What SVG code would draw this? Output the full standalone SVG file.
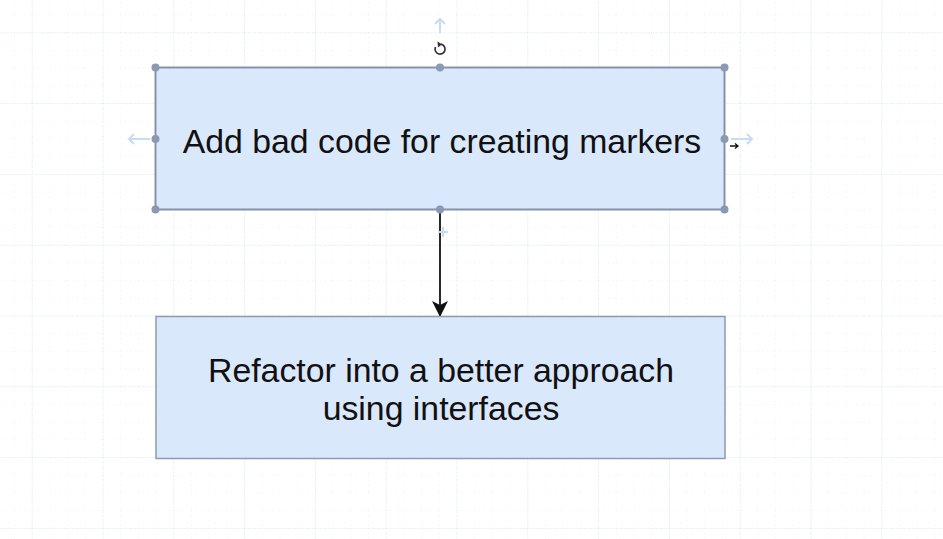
<svg xmlns="http://www.w3.org/2000/svg" width="943" height="539" viewBox="0 0 943 539">
<defs>
<pattern id="minor" x="31.7" y="32.3" width="17.7" height="17.7" patternUnits="userSpaceOnUse">
<path d="M0 0V17.7M0 0H17.7" fill="none" stroke="#dbe6f6" stroke-width="1" stroke-dasharray="1 4"/>
</pattern>
<pattern id="major" x="31.7" y="32.3" width="70.8" height="70.8" patternUnits="userSpaceOnUse">
<path d="M0 0V70.8M0 0H70.8" fill="none" stroke="#c6d9f2" stroke-width="1" stroke-dasharray="1 1.2"/>
</pattern>
<marker id="arrow" viewBox="0 0 16 16" refX="15" refY="8" markerWidth="16" markerHeight="16" markerUnits="userSpaceOnUse" orient="auto">
<path d="M0 0L16 8L0 16L4 8Z" fill="#111"/>
</marker>
<style>
.box{fill:#dae8fc;stroke:#8a9bb4;stroke-width:1.5}
.sel{stroke:#8593aa;stroke-width:2}
.lbl{font-family:"Liberation Sans",Arial,sans-serif;font-size:33.8px;fill:#111;text-anchor:middle}
.handle{fill:#8a9ab2}
.hint{fill:none;stroke:#c9dbf3;stroke-width:2}
</style>
</defs>
<rect width="943" height="539" fill="#fff"/>
<rect width="943" height="539" fill="url(#minor)"/>
<rect width="943" height="539" fill="url(#major)"/>

<g id="connectors">
<line x1="440" y1="210" x2="440" y2="316" stroke="#111" stroke-width="1.8" marker-end="url(#arrow)"/>
</g>

<g id="node-add-bad-code">
<rect class="box sel" x="155.5" y="67.5" width="569" height="142"/>
<text class="lbl" x="442" y="153">Add bad code for creating markers</text>
</g>

<g id="node-refactor">
<rect class="box" x="156" y="316.5" width="569" height="142"/>
<text class="lbl" x="441" y="382">Refactor into a better approach</text>
<text class="lbl" x="441" y="420">using interfaces</text>
</g>

<g id="selection-handles">
<circle class="handle" cx="155.5" cy="67.5" r="4"/>
<circle class="handle" cx="440" cy="67.5" r="4"/>
<circle class="handle" cx="724.5" cy="67.5" r="4"/>
<circle class="handle" cx="155.5" cy="139" r="4"/>
<circle class="handle" cx="724.5" cy="139" r="4"/>
<circle class="handle" cx="155.5" cy="209.5" r="4"/>
<circle class="handle" cx="440" cy="209.5" r="4"/>
<circle class="handle" cx="724.5" cy="209.5" r="4"/>
<path d="M435.5 47A5 5 0 1 0 441 44.2" fill="none" stroke="#333" stroke-width="1.7"/>
<path d="M437.5 41.5L442 44.2L438 47.5Z" fill="#333"/>
<path class="hint" d="M440 33V20M435 24L440 19L445 24"/>
<path class="hint" d="M150 139H130M134 134L129 139L134 144"/>
<path class="hint" d="M731 139H751M747 134L752 139L747 144"/>
<path class="hint" d="M443 227V237M438 232H448" stroke-width="1.2"/>
<path d="M730 146H737M735 143.5L738 146L735 148.5" fill="none" stroke="#111" stroke-width="1.3"/>
</g>
</svg>
